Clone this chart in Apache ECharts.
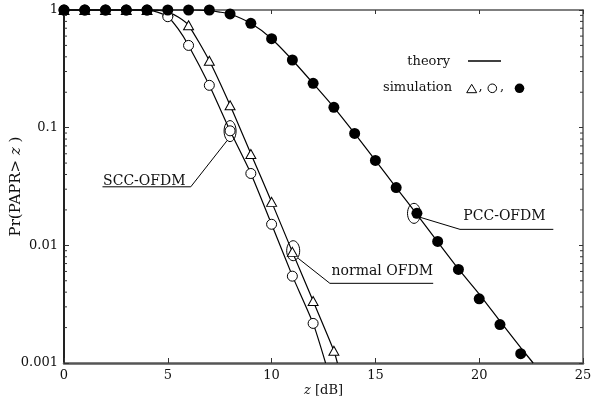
<!DOCTYPE html>
<html>
<head>
<meta charset="utf-8">
<title>PAPR CCDF</title>
<script src="https://cdn.jsdelivr.net/npm/echarts@6/dist/echarts.min.js"></script>
<style>
  html, body { margin: 0; padding: 0; background: #fff; }
  #chart { width: 591px; height: 403px; }
</style>
</head>
<body>
<div id="chart"></div>
<script>
// simulation points, z in dB
var simX = [0, 1, 2, 3, 4, 5, 6, 7, 8, 9, 10, 11, 12, 13, 14, 15, 16, 17, 18, 19, 20, 21, 22]
var pccSim = [1, 1, 1, 1, 1, 1, 1, 1, 0.925, 0.77, 0.57, 0.376, 0.238, 0.149, 0.0894, 0.0527, 0.031, 0.0187, 0.0108, 0.00624, 0.00351, 0.00212, 0.0012]
var normalSim = [1, 1, 1, 1, 1, 0.97, 0.741, 0.37, 0.155, 0.0597, 0.0234, 0.0088, 0.00336, 0.00127]
var sccSim = [1, 1, 1, 1, 1, 0.877, 0.5, 0.229, 0.094, 0.0408, 0.0151, 0.00547, 0.00217]

// theory curves
var normalThX = [0, 4, 4.5, 5, 5.5, 6, 7, 8, 9, 10, 11, 12, 13, 13.17]
var normalThY = [1, 1, 0.995, 0.96, 0.87, 0.741, 0.37, 0.155, 0.06, 0.0234, 0.0088, 0.00336, 0.00127, 0.001]
var sccThX = [0, 3.5, 4, 4.5, 5, 5.5, 6, 7, 8, 9, 10, 11, 12, 12.6]
var sccThY = [1, 1, 0.995, 0.96, 0.877, 0.69, 0.5, 0.229, 0.094, 0.0408, 0.0151, 0.0055, 0.00217, 0.001]
var pccThX = [0, 6, 6.5, 7, 7.5, 8, 9, 10, 11, 12, 13, 14, 15, 16, 17, 18, 19, 20, 21, 22, 22.6]
var pccThY = [1, 1, 0.998, 0.985, 0.96, 0.925, 0.77, 0.57, 0.376, 0.238, 0.149, 0.0894, 0.0527, 0.031, 0.0183, 0.0107, 0.0063, 0.00385, 0.00227, 0.00135, 0.001]

var minorTicks = [0.002, 0.003, 0.004, 0.005, 0.006, 0.007, 0.008, 0.009,
  0.02, 0.03, 0.04, 0.05, 0.06, 0.07, 0.08, 0.09,
  0.2, 0.3, 0.4, 0.5, 0.6, 0.7, 0.8, 0.9]

// annotation anchors (data) + label text
var annText = ['SCC-OFDM', 'normal OFDM', 'PCC-OFDM']
var annAt = [[8, 0.0935], [11.04, 0.009], [16.86, 0.0187]]

var FONT = 'DejaVu Serif'

function pairs(xs, ys) {
  return ys.map(function (y, i) { return [xs[i], y] })
}

var chart = echarts.init(document.getElementById('chart'))

var theoryLine = {
  type: 'line',
  showSymbol: false,
  smooth: 0.2,
  clip: false,
  lineStyle: { color: '#000', width: 1.2 },
  z: 2
}

chart.setOption({
  animation: false,
  grid: { left: 64, right: 8, top: 10, bottom: 40, containLabel: false, outerBoundsMode: 'none' },
  xAxis: [
    {
      type: 'value', min: 0, max: 25, interval: 5, position: 'bottom',
      axisLine: { onZero: false, lineStyle: { color: '#555', width: 2.5 } },
      axisTick: { inside: true, length: 5, lineStyle: { color: '#333' } },
      axisLabel: { margin: 6, color: '#111', fontFamily: FONT, fontSize: 13 },
      splitLine: { show: false },
      name: '{i|z} [dB]',
      nameLocation: 'middle',
      nameGap: 21,
      nameMoveOverlap: false,
      nameTextStyle: {
        color: '#111', fontFamily: FONT, fontSize: 13,
        rich: { i: { fontStyle: 'italic', fontFamily: FONT, fontSize: 13, color: '#111' } }
      }
    },
    {
      type: 'value', min: 0, max: 25, interval: 5, position: 'top',
      axisLine: { onZero: false, lineStyle: { color: '#555', width: 1.5 } },
      axisTick: { inside: true, length: 4, lineStyle: { color: '#333' } },
      axisLabel: { show: false },
      splitLine: { show: false }
    }
  ],
  yAxis: [
    {
      type: 'log', logBase: 10, min: 0.001, max: 1, position: 'left',
      axisLine: { show: true, onZero: false, lineStyle: { color: '#222', width: 2 } },
      axisTick: { show: true, inside: true, length: 5, lineStyle: { color: '#333' } },
      axisLabel: {
        margin: 6, color: '#111', fontFamily: FONT, fontSize: 13,
        formatter: function (v) { return String(+Number(v).toPrecision(1)) }
      },
      splitLine: { show: false },
      name: 'Pr(PAPR> {i|z} )',
      nameLocation: 'middle',
      nameGap: 40,
      nameMoveOverlap: false,
      nameTextStyle: {
        color: '#111', fontFamily: FONT, fontSize: 15,
        rich: { i: { fontStyle: 'italic', fontFamily: FONT, fontSize: 15, color: '#111' } }
      }
    },
    {
      type: 'log', logBase: 10, min: 0.001, max: 1, position: 'right',
      axisLine: { show: true, onZero: false, lineStyle: { color: '#555', width: 1.5 } },
      axisTick: { show: true, inside: true, length: 4, lineStyle: { color: '#333' } },
      axisLabel: { show: false },
      splitLine: { show: false }
    }
  ],
  series: [
    Object.assign({ data: pairs(normalThX, normalThY) }, theoryLine),
    Object.assign({ data: pairs(sccThX, sccThY) }, theoryLine),
    Object.assign({ data: pairs(pccThX, pccThY) }, theoryLine),
    {
      type: 'scatter', clip: false, z: 3,
      symbol: 'triangle', symbolSize: [10, 9],
      itemStyle: { color: '#fff', borderColor: '#000', borderWidth: 1, opacity: 1 },
      data: pairs(simX, normalSim)
    },
    {
      type: 'scatter', clip: false, z: 4,
      symbol: 'circle', symbolSize: 10,
      itemStyle: { color: '#fff', borderColor: '#000', borderWidth: 1, opacity: 1 },
      data: pairs(simX, sccSim)
    },
    {
      type: 'scatter', clip: false, z: 5,
      symbol: 'circle', symbolSize: 11,
      itemStyle: { color: '#000', opacity: 1 },
      data: pairs(simX, pccSim)
    },
    {
      // log minor ticks on left and right frame
      type: 'custom', silent: true, clip: false, z: 6,
      encode: { x: 0, y: 1 },
      data: minorTicks.map(function (v) { return [0, v] }),
      renderItem: function (params, api) {
        var v = api.value(1)
        var l = api.coord([0, v])
        var r = api.coord([25, v])
        var st = { stroke: '#333', lineWidth: 1 }
        return {
          type: 'group',
          children: [
            { type: 'line', shape: { x1: l[0], y1: l[1], x2: l[0] + 3, y2: l[1] }, style: st },
            { type: 'line', shape: { x1: r[0] - 3, y1: r[1], x2: r[0], y2: r[1] }, style: st }
          ]
        }
      }
    }
  ]
})

// annotations: ellipse round a point, leader line, underlined label
var ink = { stroke: '#000', lineWidth: 1, fill: null }
var annShape = [
  // rx, ry, leader start, elbow, underline end x, text x, text bottom
  { rx: 6, ry: 10.5, s: [-2.6, 9], e: [-39.3, 55.7], u: -127.6, tx: -127, ty: 57 },
  { rx: 6.5, ry: 10, s: [5, 7.6], e: [36.7, 32.6], u: 140, tx: 38.4, ty: 28 },
  { rx: 6.5, ry: 10, s: [4.3, 3.4], e: [46, 16], u: 139.3, tx: 49.3, ty: 10 }
]
var gfx = []
annAt.forEach(function (p, i) {
  var c = chart.convertToPixel({ seriesIndex: 0 }, p)
  var a = annShape[i]
  gfx.push({ type: 'ellipse', shape: { cx: c[0], cy: c[1], rx: a.rx, ry: a.ry }, style: ink, z: 10 })
  gfx.push({
    type: 'polyline',
    shape: { points: [[c[0] + a.s[0], c[1] + a.s[1]], [c[0] + a.e[0], c[1] + a.e[1]], [c[0] + a.u, c[1] + a.e[1]]] },
    style: ink, z: 10
  })
  gfx.push({
    type: 'text', z: 10,
    style: {
      text: annText[i], x: c[0] + a.tx, y: c[1] + a.ty,
      align: 'left', verticalAlign: 'bottom',
      font: '14px "' + FONT + '"', fill: '#111'
    }
  })
})

// legend block
var lf = '13px "' + FONT + '"'
gfx.push(
  { type: 'text', style: { text: 'theory', x: 450, y: 61.5, align: 'right', verticalAlign: 'middle', font: lf, fill: '#111' } },
  { type: 'line', shape: { x1: 468, y1: 61, x2: 501, y2: 61 }, style: { stroke: '#000', lineWidth: 1.5 } },
  { type: 'text', style: { text: 'simulation', x: 452, y: 88, align: 'right', verticalAlign: 'middle', font: lf, fill: '#111' } },
  { type: 'polygon', shape: { points: [[471.7, 84.3], [466.7, 92.7], [476.7, 92.7]] }, style: ink },
  { type: 'text', style: { text: ',', x: 478.5, y: 93, align: 'left', verticalAlign: 'bottom', font: lf, fill: '#111' } },
  { type: 'circle', shape: { cx: 492.3, cy: 88.3, r: 4.3 }, style: ink },
  { type: 'text', style: { text: ',', x: 500, y: 93, align: 'left', verticalAlign: 'bottom', font: lf, fill: '#111' } },
  { type: 'circle', shape: { cx: 519.5, cy: 88.3, r: 4.8 }, style: { fill: '#000' } }
)

chart.setOption({ graphic: gfx })
</script>
</body>
</html>
